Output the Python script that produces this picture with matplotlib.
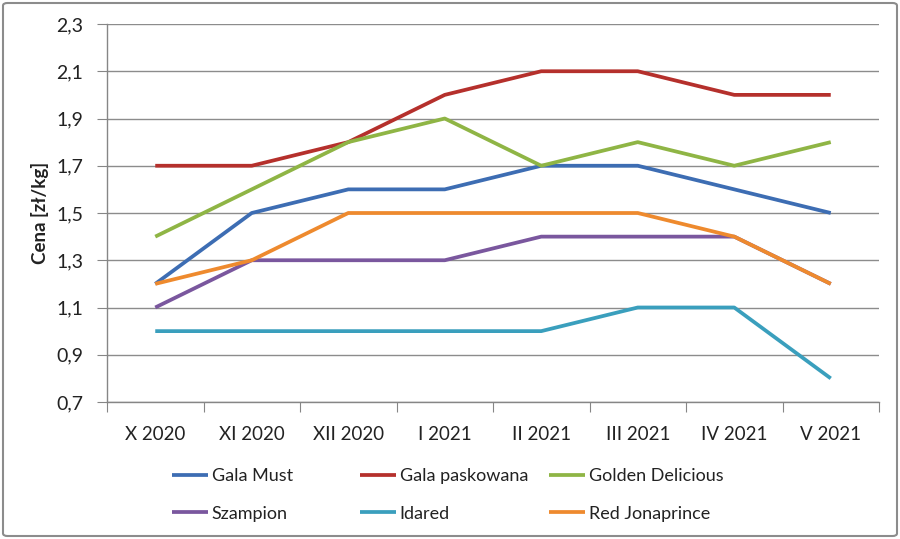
import matplotlib
matplotlib.use("Agg")
import matplotlib.pyplot as plt
from matplotlib.patches import FancyBboxPatch
from matplotlib.ticker import FuncFormatter

months = ["X 2020", "XI 2020", "XII 2020", "I 2021", "II 2021", "III 2021", "IV 2021", "V 2021"]

gala_must = [1.2, 1.5, 1.6, 1.6, 1.7, 1.7, 1.6, 1.5]
gala_paskowana = [1.7, 1.7, 1.8, 2.0, 2.1, 2.1, 2.0, 2.0]
golden_delicious = [1.4, 1.6, 1.8, 1.9, 1.7, 1.8, 1.7, 1.8]
szampion = [1.1, 1.3, 1.3, 1.3, 1.4, 1.4, 1.4, 1.2]
idared = [1.0, 1.0, 1.0, 1.0, 1.0, 1.1, 1.1, 0.8]
red_jonaprince = [1.2, 1.3, 1.5, 1.5, 1.5, 1.5, 1.4, 1.2]

series = [
    ("Gala Must", gala_must, "#3d6db3"),
    ("Gala paskowana", gala_paskowana, "#b5302c"),
    ("Golden Delicious", golden_delicious, "#8fb545"),
    ("Szampion", szampion, "#7a579e"),
    ("Idared", idared, "#3a9fbd"),
    ("Red Jonaprince", red_jonaprince, "#ee8a2e"),
]

yticks = [0.7, 0.9, 1.1, 1.3, 1.5, 1.7, 1.9, 2.1, 2.3]

plt.rcParams['font.family'] = ['Lato', 'DejaVu Sans']

fig = plt.figure(figsize=(9, 5.39), dpi=100)
ax = fig.add_axes([107 / 900, 1 - 402 / 539, 772 / 900, 378 / 539])

x = list(range(len(months)))
lines = []
for name, vals, col in series:
    ln, = ax.plot(x, vals, color=col, lw=2.7, label=name, solid_capstyle='butt')
    lines.append(ln)

ax.set_xlim(-0.5, len(months) - 0.5)
ax.set_ylim(0.7, 2.3)
ax.set_yticks(yticks)
ax.yaxis.set_major_formatter(FuncFormatter(lambda v, p: f"{v:.1f}".replace(".", ",")))
# category boundaries get the tick marks, centres get the labels
ax.set_xticks([i + 0.5 for i in range(-1, len(months))])
ax.set_xticklabels([])
ax.set_xticks(x, minor=True)
ax.set_xticklabels(months, minor=True)
ax.tick_params(axis='x', which='minor', length=0, labelsize=13.5, pad=17, colors='#222222')
ax.tick_params(axis='x', which='major', length=7, color='#868686')
ax.tick_params(axis='y', length=7, color='#868686', labelsize=14, pad=10, labelcolor='#222222')

ax.grid(axis='y', color='#8c8c8c', lw=1)
ax.set_axisbelow(True)
for s in ['top', 'right']:
    ax.spines[s].set_visible(False)
for s in ['left', 'bottom']:
    ax.spines[s].set_color('#868686')
    ax.spines[s].set_linewidth(1)

fig.text(40 / 900, 1 - 213 / 539, "Cena [zł/kg]", rotation=90, ha='center', va='center',
         fontsize=13.5, fontweight='bold', color='#222222')

col_x = [172, 360, 549]
for j, cx in enumerate(col_x):
    fig.legend(handles=[lines[j], lines[j + 3]], loc='upper left',
               bbox_to_anchor=(cx / 900, 1 - 468 / 539), frameon=False,
               fontsize=13, handlelength=2.0, handletextpad=0.2,
               borderpad=0, borderaxespad=0, labelspacing=1.2, labelcolor='#222222')

fig.patches.append(FancyBboxPatch((3 / 900, 3 / 539), 894 / 900, 533 / 539,
                                  boxstyle="round,pad=0,rounding_size=0.005",
                                  transform=fig.transFigure, fill=False,
                                  edgecolor='#8c8c8c', lw=1.5))

fig.savefig("out.png", dpi=100)
